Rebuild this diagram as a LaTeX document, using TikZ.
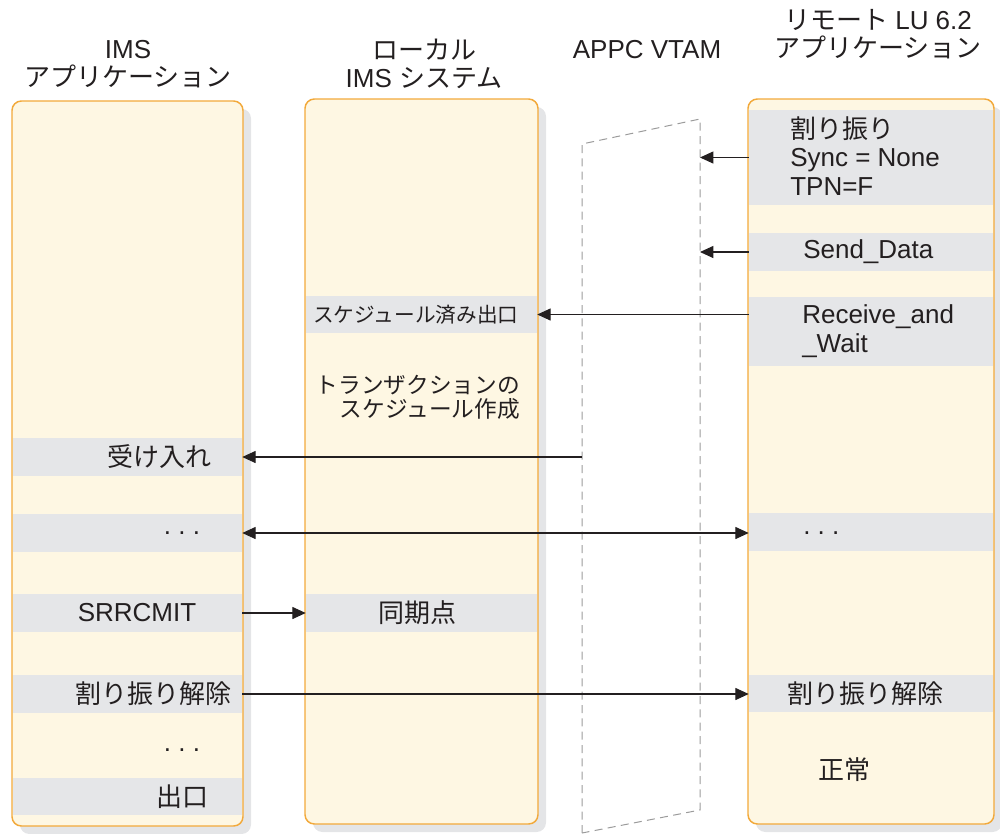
\documentclass[tikz,border=0pt]{standalone}
\usepackage{fontspec}
\setmainfont{Liberation Sans}
\newfontfamily\jp{Noto Sans CJK JP}
\usetikzlibrary{positioning}
\usetikzlibrary{arrows.meta}
\usetikzlibrary{fit}
\usetikzlibrary{shadows}
\definecolor{cream}{HTML}{FEF7E3}
\definecolor{frame}{HTML}{F2A93B}
\definecolor{band}{HTML}{E5E6E8}
\definecolor{shade}{HTML}{E4E5E7}
\definecolor{ink}{HTML}{231F20}
\definecolor{dash}{HTML}{9B9B9B}

\begin{document}
\begin{tikzpicture}[x=0.75pt, y=-0.75pt,
    every node/.style={inner sep=0pt, text=ink, font=\fontsize{19.5pt}{21.5pt}\selectfont},
    lane/.style={draw=frame, line width=1.1pt, fill=cream, rounded corners=7pt,
      drop shadow={shadow xshift=6pt, shadow yshift=-6pt, fill=shade, opacity=1}},
    bar/.style={fill=band},
    >={Triangle[length=10pt, width=9pt]},
    msg/.style={->, line width=0.8pt, draw=ink},
    twoway/.style={<->, line width=0.8pt, draw=ink},
    vtam/.style={draw=dash, line width=0.75pt, dash pattern=on 6pt off 4pt},
  ]
    \useasboundingbox (0,0) rectangle (1000,833);

    % Column headers
    \node[align=center] (ims-h) at (128,64) {IMS\\{\jp アプリケーション}};
    \node[align=center] (loc-h) at (424,64) {{\jp ローカル}\\IMS {\jp システム}};
    \node (vtam-h) at (647,50) {APPC VTAM};
    \node[align=center] (rem-h) at (878,34) {{\jp リモート} LU 6.2\\{\jp アプリケーション}};

    % Lanes
    \node[lane, fit={(12,101) (243,826)}] (ims) {};
    \node[lane, fit={(305,99) (538,824)}] (loc) {};
    \node[lane, fit={(748,99) (994,824)}] (rem) {};

    % APPC VTAM (dashed)
    \coordinate (vtamLT) at (582,144);
    \coordinate (vtamRT) at (700,119);
    \coordinate (vtamRB) at (700,810);
    \coordinate (vtamLB) at (582,833);
    \draw[vtam] (vtamLB) -- (vtamLT) -- (vtamRT) -- (vtamRB) -- cycle;

    % IMS application
    \node[bar, fit={(13,438) (242,476)}] (accept) {};
    \node (accept-t) at (159,457) {\jp 受け入れ};
    \node[bar, fit={(13,514) (242,552)}] (dots-l) {};
    \node (dots-l-t) at (182,533) {.\ .\ .};
    \node[bar, fit={(13,594) (242,632)}] (srrcmit) {};
    \node (srrcmit-t) at (137,613) {SRRCMIT};
    \node[bar, fit={(13,675) (242,713)}] (dealloc-l) {};
    \node (dealloc-l-t) at (153,694) {\jp 割り振り解除};
    \node (dots-end) at (182,750) {.\ .\ .};
    \node[bar, fit={(13,778) (242,815)}] (exit) {};
    \node (exit-t) at (182,797) {\jp 出口};

    % local IMS system
    \node[bar, fit={(306,296) (537,333)}] (sched) {};
    \node[anchor=west, font=\fontsize{15.5pt}{18pt}\selectfont\jp] (sched-t) at (313,315) {スケジュール済み出口};
    \node[anchor=east, align=right, font=\fontsize{17pt}{18pt}\selectfont\jp] (trans-t) at (520,397) {トランザクションの\\スケジュール作成};
    \node[bar, fit={(306,594) (537,632)}] (syncpt) {};
    \node (syncpt-t) at (417,613) {\jp 同期点};

    % remote LU 6.2 application
    \node[bar, fit={(749,110) (993,205)}] (alloc) {};
    \node[anchor=west, align=left] (alloc-t) at (790,156) {{\jp 割り振り}\\Sync = None\\TPN=F};
    \node[bar, fit={(749,233) (993,271)}] (send) {};
    \node[anchor=west] (send-t) at (803,252) {Send\_Data};
    \node[bar, fit={(749,297) (993,366)}] (recv) {};
    \node[anchor=west, align=left] (recv-t) at (802,331) {Receive\_and\\\_Wait};
    \node[bar, fit={(749,513) (993,551)}] (dots-r) {};
    \node[anchor=west] (dots-r-t) at (803,533) {.\ .\ .};
    \node[bar, fit={(749,675) (993,712)}] (dealloc-r) {};
    \node (dealloc-r-t) at (865,694) {\jp 割り振り解除};
    \node (normal-t) at (844,770) {\jp 正常};

    % Flows
    \draw[msg] (alloc.west) -- (alloc.west -| vtamRT);
    \draw[msg] (send.west) -- (send.west -| vtamRT);
    \draw[msg] (sched.east -| recv.west) -- (sched.east);
    \draw[msg] (accept.east -| vtamLT) -- (accept.east);
    \draw[twoway] (dots-l.east) -- (dots-l.east -| dots-r.west);
    \draw[msg] (srrcmit.east) -- (syncpt.west);
    \draw[msg] (dealloc-l.east) -- (dealloc-l.east -| dealloc-r.west);
\end{tikzpicture}
\end{document}
